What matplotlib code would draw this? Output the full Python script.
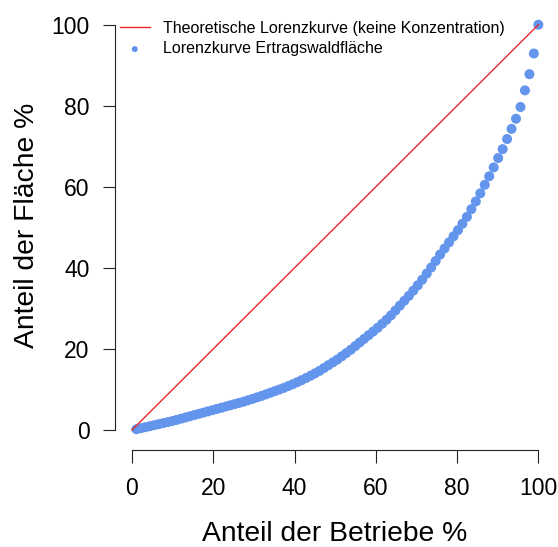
import numpy as np
import matplotlib
matplotlib.use("Agg")
import matplotlib.pyplot as plt

plt.rcParams['font.family'] = ['Liberation Sans', 'DejaVu Sans']

# Anteil der Betriebe in % (91 Betriebe, kumuliert)
n_betriebe = 91
anteil_betriebe = np.arange(1, n_betriebe + 1) / n_betriebe * 100

# kumulierter Anteil der Ertragswaldflaeche in %
anteil_flaeche = [
    0.2, 0.45, 0.7, 0.95, 1.2, 1.45, 1.7, 1.95, 2.2, 2.5,
    2.8, 3.1, 3.4, 3.7, 4.0, 4.3, 4.6, 4.9, 5.2, 5.5,
    5.8, 6.1, 6.4, 6.7, 7.0, 7.35, 7.7, 8.05, 8.4, 8.8,
    9.2, 9.6, 10.0, 10.4, 10.85, 11.3, 11.8, 12.3, 12.85, 13.4,
    14.0, 14.6, 15.3, 16.0, 16.7, 17.4, 18.2, 19.0, 19.8, 20.7,
    21.6, 22.5, 23.4, 24.3, 25.2, 26.2, 27.2, 28.3, 29.5, 30.7,
    31.9, 33.1, 34.4, 35.7, 37.1, 38.6, 40.1, 41.7, 43.3, 44.8,
    46.3, 47.8, 49.3, 50.9, 52.6, 54.5, 56.4, 58.4, 60.5, 62.6,
    64.8, 67.1, 69.3, 71.8, 74.3, 76.8, 79.7, 83.8, 87.8, 92.9,
    100.0,
]

gleichverteilung = [0, 100]
ticks = [0, 20, 40, 60, 80, 100]

W, H = 558, 547
fig = plt.figure(figsize=(W / 100, H / 100), dpi=100)
ax = fig.add_axes([115.3 / W, 1 - 450.3 / H, 439.3 / W, 441.8 / H])

pkt = ax.scatter(anteil_betriebe, anteil_flaeche, s=52, color='#6495ED',
                 edgecolors='none', zorder=2,
                 label='Lorenzkurve Ertragswaldfläche')
lin, = ax.plot(gleichverteilung, gleichverteilung, color='#e8282a', lw=1.0,
               zorder=3, label='Theoretische Lorenzkurve (keine Konzentration)')

ax.set_xlim(-4.1, 104)
ax.set_ylim(-5, 104)

# R-Stil: nur linke und untere Achse, abgesetzt
for s in ['top', 'right']:
    ax.spines[s].set_visible(False)
ax.spines['bottom'].set_bounds(0, 100)
ax.spines['left'].set_bounds(0, 100)
for s in ['bottom', 'left']:
    ax.spines[s].set_linewidth(0.8)
    ax.spines[s].set_color('#222222')

ax.set_xticks(ticks)
ax.set_yticks(ticks)
ax.tick_params(axis='both', direction='out', length=9.5, width=0.8,
               color='#222222', labelsize=16.5, pad=10)
ax.tick_params(axis='y', length=8.6)

ax.set_xlabel('Anteil der Betriebe %', fontsize=20.3)
ax.xaxis.set_label_coords(0.5, -0.205)
ax.xaxis.label.set_va('baseline')
ax.set_ylabel('Anteil der Fläche %', fontsize=20.3)
ax.yaxis.label.set_rotation_mode('anchor')
ax.yaxis.label.set_va('baseline')
ax.yaxis.set_label_coords(-0.184, 0.51)

ax.legend(handles=[lin, pkt], loc='upper left',
          bbox_to_anchor=(120 / W, 1 - 21 / H), bbox_transform=fig.transFigure,
          frameon=False, fontsize=11.5, borderpad=0, borderaxespad=0,
          handlelength=1.85, handletextpad=0.85, labelspacing=0.33,
          markerscale=0.6)

fig.savefig('out.png', dpi=100)
